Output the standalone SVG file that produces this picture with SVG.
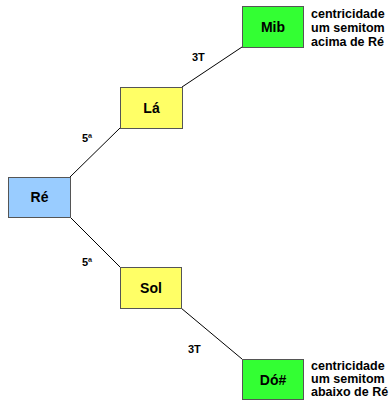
<svg xmlns="http://www.w3.org/2000/svg" width="389" height="400" viewBox="0 0 389 400">
<style>
.box{stroke:#555;stroke-width:1}
.lbl{font-family:"Liberation Sans",Arial,sans-serif;font-weight:bold;font-size:14px;text-anchor:middle;fill:#000}
.sm{font-family:"Liberation Sans",Arial,sans-serif;font-weight:bold;font-size:11px;fill:#000}
.side{font-family:"Liberation Sans",Arial,sans-serif;font-weight:bold;font-size:12.5px;fill:#000}
.edge{stroke:#000;stroke-width:1;fill:none}
</style>
<rect width="389" height="400" fill="#fff"/>
<g id="connectors">
<line class="edge" x1="70" y1="177" x2="120" y2="128"/>
<line class="edge" x1="182" y1="87" x2="242" y2="47"/>
<line class="edge" x1="70" y1="217" x2="120" y2="267"/>
<line class="edge" x1="181" y1="308" x2="242" y2="359"/>
<text class="sm" x="82" y="142">5ª</text>
<text class="sm" x="82" y="266">5ª</text>
<text class="sm" x="192" y="61">3T</text>
<text class="sm" x="188" y="353">3T</text>
</g>
<g id="re"><rect class="box" x="8.5" y="177.5" width="62" height="40" fill="#99ccff"/><text class="lbl" x="39.5" y="202">Ré</text></g>
<g id="la"><rect class="box" x="120.5" y="87.5" width="62" height="41" fill="#ffff66"/><text class="lbl" x="151.5" y="113">Lá</text></g>
<g id="sol"><rect class="box" x="120.5" y="267.5" width="61" height="41" fill="#ffff66"/><text class="lbl" x="151" y="293">Sol</text></g>
<g id="mib"><rect class="box" x="242.5" y="6.5" width="61" height="41" fill="#33ff33"/><text class="lbl" x="273" y="32">Mib</text>
<text class="side" x="311" y="18">centricidade</text><text class="side" x="311" y="32">um semitom</text><text class="side" x="311" y="46">acima de Ré</text></g>
<g id="dos"><rect class="box" x="242.5" y="359.5" width="61" height="40" fill="#33ff33"/><text class="lbl" x="273" y="385">Dó#</text>
<text class="side" x="311" y="370">centricidade</text><text class="side" x="311" y="383">um semitom</text><text class="side" x="311" y="396">abaixo de Ré</text></g>
</svg>
